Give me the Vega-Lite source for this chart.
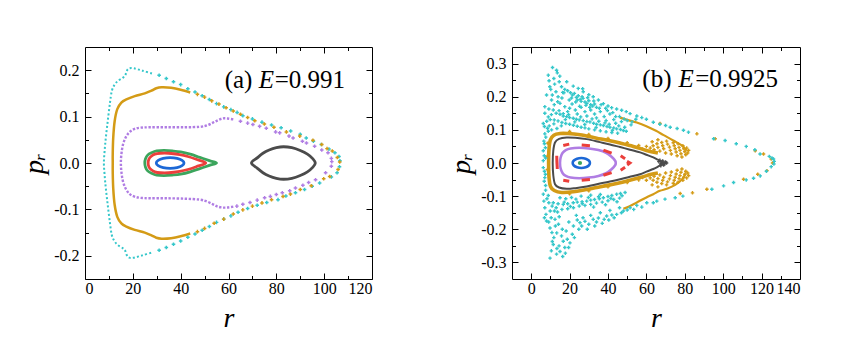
{
"$schema": "https://vega.github.io/schema/vega-lite/v6.json",
"padding": {"left": 20, "top": 46, "right": 5, "bottom": 5},
"spacing": 74,
"config": {
  "view": {"stroke": "black", "strokeWidth": 1},
  "axis": {"grid": false, "domain": false, "tickColor": "black", "labelColor": "black", "labelFontSize": 16, "labelFont": "Liberation Serif", "titleFont": "Liberation Serif", "titleFontSize": 28, "titleFontStyle": "italic", "titleFontWeight": "normal", "titleColor": "black", "tickWidth": 1}
},
"datasets": {
"aL": [
{"s":"cy","i":1,"r":28,"p":0.193},{"s":"cy","i":2,"r":24,"p":0.199},{"s":"cy","i":3,"r":20.5,"p":0.204},{"s":"cy","i":4,"r":18.5,"p":0.204},{"s":"cy","i":5,"r":17.5,"p":0.199},{"s":"cy","i":6,"r":16.9,"p":0.19},{"s":"cy","i":7,"r":15.9,"p":0.184},{"s":"cy","i":8,"r":13.8,"p":0.177},{"s":"cy","i":9,"r":12.4,"p":0.169},{"s":"cy","i":10,"r":11.2,"p":0.155},{"s":"cy","i":11,"r":10.4,"p":0.128},{"s":"cy","i":12,"r":9.5,"p":0.09},{"s":"cy","i":13,"r":8.7,"p":0.054},{"s":"cy","i":14,"r":8.2,"p":0.026},{"s":"cy","i":15,"r":7.9,"p":0},{"s":"cy","i":16,"r":8.2,"p":-0.026},{"s":"cy","i":17,"r":8.7,"p":-0.054},{"s":"cy","i":18,"r":9.5,"p":-0.09},{"s":"cy","i":19,"r":10.4,"p":-0.128},{"s":"cy","i":20,"r":11.2,"p":-0.155},{"s":"cy","i":21,"r":12.4,"p":-0.169},{"s":"cy","i":22,"r":13.8,"p":-0.177},{"s":"cy","i":23,"r":15.9,"p":-0.184},{"s":"cy","i":24,"r":16.9,"p":-0.19},{"s":"cy","i":25,"r":17.5,"p":-0.199},{"s":"cy","i":26,"r":18.5,"p":-0.204},{"s":"cy","i":27,"r":20.5,"p":-0.204},{"s":"cy","i":28,"r":24,"p":-0.199},{"s":"cy","i":29,"r":28,"p":-0.193},
{"s":"or","i":1,"r":44,"p":0.152},{"s":"or","i":2,"r":40,"p":0.158},{"s":"or","i":3,"r":36,"p":0.162},{"s":"or","i":4,"r":32,"p":0.163},{"s":"or","i":5,"r":29.8,"p":0.161},{"s":"or","i":6,"r":27.8,"p":0.156},{"s":"or","i":7,"r":25,"p":0.15},{"s":"or","i":8,"r":20.8,"p":0.144},{"s":"or","i":9,"r":17.3,"p":0.137},{"s":"or","i":10,"r":15.2,"p":0.13},{"s":"or","i":11,"r":13.5,"p":0.116},{"s":"or","i":12,"r":12.4,"p":0.09},{"s":"or","i":13,"r":11.8,"p":0.054},{"s":"or","i":14,"r":11.6,"p":0.02},{"s":"or","i":15,"r":11.6,"p":0},{"s":"or","i":16,"r":11.6,"p":-0.02},{"s":"or","i":17,"r":11.8,"p":-0.054},{"s":"or","i":18,"r":12.4,"p":-0.09},{"s":"or","i":19,"r":13.5,"p":-0.116},{"s":"or","i":20,"r":15.2,"p":-0.13},{"s":"or","i":21,"r":17.3,"p":-0.137},{"s":"or","i":22,"r":20.8,"p":-0.144},{"s":"or","i":23,"r":25,"p":-0.15},{"s":"or","i":24,"r":27.8,"p":-0.156},{"s":"or","i":25,"r":29.8,"p":-0.161},{"s":"or","i":26,"r":32,"p":-0.163},{"s":"or","i":27,"r":36,"p":-0.162},{"s":"or","i":28,"r":40,"p":-0.158},{"s":"or","i":29,"r":44,"p":-0.152},
{"s":"pu","i":1,"r":62,"p":0.094},{"s":"pu","i":2,"r":59.5,"p":0.096},{"s":"pu","i":3,"r":57.5,"p":0.096},{"s":"pu","i":4,"r":55.5,"p":0.092},{"s":"pu","i":5,"r":53.5,"p":0.087},{"s":"pu","i":6,"r":51,"p":0.081},{"s":"pu","i":7,"r":48,"p":0.078},{"s":"pu","i":8,"r":42,"p":0.077},{"s":"pu","i":9,"r":34,"p":0.077},{"s":"pu","i":10,"r":27,"p":0.077},{"s":"pu","i":11,"r":23,"p":0.076},{"s":"pu","i":12,"r":20.5,"p":0.073},{"s":"pu","i":13,"r":18.5,"p":0.066},{"s":"pu","i":14,"r":16.9,"p":0.054},{"s":"pu","i":15,"r":15.8,"p":0.038},{"s":"pu","i":16,"r":15.2,"p":0.018},{"s":"pu","i":17,"r":15,"p":0},{"s":"pu","i":18,"r":15.2,"p":-0.018},{"s":"pu","i":19,"r":15.8,"p":-0.038},{"s":"pu","i":20,"r":16.9,"p":-0.054},{"s":"pu","i":21,"r":18.5,"p":-0.066},{"s":"pu","i":22,"r":20.5,"p":-0.072},{"s":"pu","i":23,"r":23,"p":-0.075},{"s":"pu","i":24,"r":27,"p":-0.076},{"s":"pu","i":25,"r":34,"p":-0.076},{"s":"pu","i":26,"r":42,"p":-0.077},{"s":"pu","i":27,"r":48,"p":-0.079},{"s":"pu","i":28,"r":51,"p":-0.083},{"s":"pu","i":29,"r":53.5,"p":-0.089},{"s":"pu","i":30,"r":55.5,"p":-0.094},{"s":"pu","i":31,"r":57.5,"p":-0.096},{"s":"pu","i":32,"r":59.5,"p":-0.096},{"s":"pu","i":33,"r":62,"p":-0.094}
],
"aC": [
{"s":"gr","i":1,"r":25,"p":0},{"s":"gr","i":2,"r":25.3,"p":0.009},{"s":"gr","i":3,"r":26.2,"p":0.017},{"s":"gr","i":4,"r":27.8,"p":0.022},{"s":"gr","i":5,"r":30,"p":0.026},{"s":"gr","i":6,"r":33,"p":0.027},{"s":"gr","i":7,"r":36.5,"p":0.026},{"s":"gr","i":8,"r":40,"p":0.024},{"s":"gr","i":9,"r":44,"p":0.019},{"s":"gr","i":10,"r":48,"p":0.012},{"s":"gr","i":11,"r":52,"p":0.005},{"s":"gr","i":12,"r":55,"p":0},{"s":"gr","i":13,"r":52,"p":-0.005},{"s":"gr","i":14,"r":48,"p":-0.012},{"s":"gr","i":15,"r":44,"p":-0.019},{"s":"gr","i":16,"r":40,"p":-0.024},{"s":"gr","i":17,"r":36.5,"p":-0.026},{"s":"gr","i":18,"r":33,"p":-0.027},{"s":"gr","i":19,"r":30,"p":-0.026},{"s":"gr","i":20,"r":27.8,"p":-0.022},{"s":"gr","i":21,"r":26.2,"p":-0.017},{"s":"gr","i":22,"r":25.3,"p":-0.009},
{"s":"re","i":1,"r":26.4,"p":0},{"s":"re","i":2,"r":26.7,"p":0.008},{"s":"re","i":3,"r":27.6,"p":0.014},{"s":"re","i":4,"r":29.2,"p":0.019},{"s":"re","i":5,"r":31.5,"p":0.021},{"s":"re","i":6,"r":35,"p":0.021},{"s":"re","i":7,"r":39.6,"p":0.018},{"s":"re","i":8,"r":43,"p":0.014},{"s":"re","i":9,"r":46.5,"p":0.008},{"s":"re","i":10,"r":50.5,"p":0},{"s":"re","i":11,"r":46.5,"p":-0.008},{"s":"re","i":12,"r":43,"p":-0.014},{"s":"re","i":13,"r":39.6,"p":-0.018},{"s":"re","i":14,"r":35,"p":-0.021},{"s":"re","i":15,"r":31.5,"p":-0.021},{"s":"re","i":16,"r":29.2,"p":-0.019},{"s":"re","i":17,"r":27.6,"p":-0.014},{"s":"re","i":18,"r":26.7,"p":-0.008},
{"s":"bl","i":1,"r":41.4,"p":0},{"s":"bl","i":2,"r":40.6,"p":0.0058},{"s":"bl","i":3,"r":38.5,"p":0.01},{"s":"bl","i":4,"r":35.6,"p":0.0115},{"s":"bl","i":5,"r":32.7,"p":0.01},{"s":"bl","i":6,"r":30.6,"p":0.0058},{"s":"bl","i":7,"r":29.8,"p":0},{"s":"bl","i":8,"r":30.6,"p":-0.0058},{"s":"bl","i":9,"r":32.7,"p":-0.01},{"s":"bl","i":10,"r":35.6,"p":-0.0115},{"s":"bl","i":11,"r":38.5,"p":-0.01},{"s":"bl","i":12,"r":40.6,"p":-0.0058},
{"s":"gy","i":1,"r":69.6,"p":0},{"s":"gy","i":2,"r":72,"p":0.011},{"s":"gy","i":3,"r":74.4,"p":0.021},{"s":"gy","i":4,"r":77,"p":0.028},{"s":"gy","i":5,"r":80,"p":0.033},{"s":"gy","i":6,"r":83,"p":0.035},{"s":"gy","i":7,"r":86.5,"p":0.033},{"s":"gy","i":8,"r":90,"p":0.027},{"s":"gy","i":9,"r":93,"p":0.019},{"s":"gy","i":10,"r":95.3,"p":0.009},{"s":"gy","i":11,"r":96.3,"p":0},{"s":"gy","i":12,"r":95.3,"p":-0.009},{"s":"gy","i":13,"r":93,"p":-0.019},{"s":"gy","i":14,"r":90,"p":-0.027},{"s":"gy","i":15,"r":86.5,"p":-0.033},{"s":"gy","i":16,"r":83,"p":-0.035},{"s":"gy","i":17,"r":80,"p":-0.033},{"s":"gy","i":18,"r":77,"p":-0.028},{"s":"gy","i":19,"r":74.4,"p":-0.021},{"s":"gy","i":20,"r":72,"p":-0.011}
],
"aD": [
{"s":"cy","r":31,"p":0.189},{"s":"cy","r":34,"p":0.182},{"s":"cy","r":37,"p":0.175},{"s":"cy","r":40,"p":0.169},{"s":"cy","r":43,"p":0.16},{"s":"cy","r":46,"p":0.153},{"s":"cy","r":49,"p":0.145},{"s":"cy","r":52,"p":0.137},{"s":"cy","r":55,"p":0.128},{"s":"cy","r":58,"p":0.121},{"s":"cy","r":61,"p":0.115},{"s":"cy","r":63.6,"p":0.109},{"s":"cy","r":66,"p":0.102},{"s":"cy","r":70,"p":0.095},{"s":"cy","r":74,"p":0.088},{"s":"cy","r":78,"p":0.082},{"s":"cy","r":82,"p":0.076},{"s":"cy","r":86,"p":0.069},{"s":"cy","r":90,"p":0.062},{"s":"cy","r":92.5,"p":0.054},{"s":"cy","r":95.5,"p":0.047},{"s":"cy","r":98.8,"p":0.04},{"s":"cy","r":102,"p":0.03},{"s":"cy","r":104.5,"p":0.022},{"s":"cy","r":106.2,"p":0.014},{"s":"cy","r":106.6,"p":0.005},
{"s":"cy","r":106.4,"p":-0.008},{"s":"cy","r":105.4,"p":-0.021},{"s":"cy","r":103,"p":-0.03},{"s":"cy","r":98.1,"p":-0.043},{"s":"cy","r":95,"p":-0.05},{"s":"cy","r":91.8,"p":-0.057},{"s":"cy","r":88,"p":-0.064},{"s":"cy","r":84,"p":-0.071},{"s":"cy","r":80.7,"p":-0.079},{"s":"cy","r":76,"p":-0.085},{"s":"cy","r":72,"p":-0.091},{"s":"cy","r":68,"p":-0.098},{"s":"cy","r":64,"p":-0.106},{"s":"cy","r":61,"p":-0.114},{"s":"cy","r":58,"p":-0.121},{"s":"cy","r":55,"p":-0.128},{"s":"cy","r":52,"p":-0.137},{"s":"cy","r":49,"p":-0.145},{"s":"cy","r":46,"p":-0.153},{"s":"cy","r":43,"p":-0.16},{"s":"cy","r":40,"p":-0.168},{"s":"cy","r":37,"p":-0.175},{"s":"cy","r":34,"p":-0.182},{"s":"cy","r":31,"p":-0.188},
{"s":"or","r":47,"p":0.148},{"s":"or","r":50,"p":0.142},{"s":"or","r":53,"p":0.134},{"s":"or","r":56,"p":0.127},{"s":"or","r":59,"p":0.119},{"s":"or","r":62,"p":0.112},{"s":"or","r":65,"p":0.105},{"s":"or","r":68,"p":0.098},{"s":"or","r":71,"p":0.091},{"s":"or","r":75,"p":0.084},{"s":"or","r":79,"p":0.077},{"s":"or","r":84.2,"p":0.067},{"s":"or","r":89.8,"p":0.058},{"s":"or","r":95.3,"p":0.049},{"s":"or","r":99,"p":0.04},{"s":"or","r":101.2,"p":0.031},{"s":"or","r":103.4,"p":0.026},{"s":"or","r":105.5,"p":0.012},{"s":"or","r":106.5,"p":0.002},
{"s":"or","r":105.8,"p":-0.014},{"s":"or","r":102.3,"p":-0.029},{"s":"or","r":99.8,"p":-0.034},{"s":"or","r":94.6,"p":-0.049},{"s":"or","r":90,"p":-0.057},{"s":"or","r":85.9,"p":-0.067},{"s":"or","r":82.8,"p":-0.072},{"s":"or","r":78,"p":-0.079},{"s":"or","r":74,"p":-0.086},{"s":"or","r":70,"p":-0.093},{"s":"or","r":66,"p":-0.101},{"s":"or","r":62,"p":-0.11},{"s":"or","r":58,"p":-0.121},{"s":"or","r":54,"p":-0.13},{"s":"or","r":50,"p":-0.141},{"s":"or","r":47,"p":-0.148},
{"s":"pu","r":65,"p":0.09},{"s":"pu","r":68,"p":0.086},{"s":"pu","r":70.2,"p":0.083},{"s":"pu","r":73,"p":0.079},{"s":"pu","r":75.8,"p":0.075},{"s":"pu","r":79.7,"p":0.067},{"s":"pu","r":81.4,"p":0.065},{"s":"pu","r":85.3,"p":0.058},{"s":"pu","r":87,"p":0.054},{"s":"pu","r":90.9,"p":0.047},{"s":"pu","r":92.6,"p":0.043},{"s":"pu","r":96,"p":0.036},{"s":"pu","r":99,"p":0.028},{"s":"pu","r":101.6,"p":0.022},{"s":"pu","r":103,"p":0.01},{"s":"pu","r":103.2,"p":0.003},
{"s":"pu","r":103,"p":-0.007},{"s":"pu","r":100.6,"p":-0.021},{"s":"pu","r":96.4,"p":-0.036},{"s":"pu","r":93.5,"p":-0.042},{"s":"pu","r":91.1,"p":-0.048},{"s":"pu","r":88,"p":-0.054},{"s":"pu","r":85.6,"p":-0.06},{"s":"pu","r":82.5,"p":-0.064},{"s":"pu","r":80,"p":-0.068},{"s":"pu","r":77.5,"p":-0.072},{"s":"pu","r":75.1,"p":-0.075},{"s":"pu","r":72,"p":-0.08},{"s":"pu","r":69,"p":-0.085},{"s":"pu","r":66,"p":-0.089},{"s":"pu","r":63.5,"p":-0.093}
],
"aT": [{"t":"(a)","r":58.4,"p":0.161},{"t":"E","r":72.7,"p":0.161},{"t":"=0.991","r":79.3,"p":0.161}],
"bC": [
{"s":"bl","i":1,"r":30.6,"p":0},{"s":"bl","i":2,"r":30,"p":0.0075},{"s":"bl","i":3,"r":28.35,"p":0.013},{"s":"bl","i":4,"r":26.1,"p":0.015},{"s":"bl","i":5,"r":23.85,"p":0.013},{"s":"bl","i":6,"r":22.2,"p":0.0075},{"s":"bl","i":7,"r":21.6,"p":0},{"s":"bl","i":8,"r":22.2,"p":-0.0075},{"s":"bl","i":9,"r":23.85,"p":-0.013},{"s":"bl","i":10,"r":26.1,"p":-0.015},{"s":"bl","i":11,"r":28.35,"p":-0.013},{"s":"bl","i":12,"r":30,"p":-0.0075},
{"s":"pu","i":1,"r":15,"p":0},{"s":"pu","i":2,"r":15.3,"p":0.016},{"s":"pu","i":3,"r":16.3,"p":0.03},{"s":"pu","i":4,"r":18,"p":0.039},{"s":"pu","i":5,"r":20.5,"p":0.044},{"s":"pu","i":6,"r":25,"p":0.046},{"s":"pu","i":7,"r":30,"p":0.044},{"s":"pu","i":8,"r":35,"p":0.039},{"s":"pu","i":9,"r":39,"p":0.031},{"s":"pu","i":10,"r":42,"p":0.018},{"s":"pu","i":11,"r":43.8,"p":0.006},{"s":"pu","i":12,"r":44,"p":0},{"s":"pu","i":13,"r":43.8,"p":-0.006},{"s":"pu","i":14,"r":42,"p":-0.018},{"s":"pu","i":15,"r":39,"p":-0.031},{"s":"pu","i":16,"r":35,"p":-0.039},{"s":"pu","i":17,"r":30,"p":-0.044},{"s":"pu","i":18,"r":25,"p":-0.046},{"s":"pu","i":19,"r":20.5,"p":-0.044},{"s":"pu","i":20,"r":18,"p":-0.039},{"s":"pu","i":21,"r":16.3,"p":-0.03},{"s":"pu","i":22,"r":15.3,"p":-0.016},
{"s":"gy","i":1,"r":11.2,"p":0},{"s":"gy","i":2,"r":11.5,"p":0.037},{"s":"gy","i":3,"r":12.4,"p":0.062},{"s":"gy","i":4,"r":14.5,"p":0.073},{"s":"gy","i":5,"r":18.5,"p":0.077},{"s":"gy","i":6,"r":23,"p":0.076},{"s":"gy","i":7,"r":28.9,"p":0.072},{"s":"gy","i":8,"r":35.8,"p":0.063},{"s":"gy","i":9,"r":41,"p":0.056},{"s":"gy","i":10,"r":46.3,"p":0.048},{"s":"gy","i":11,"r":51,"p":0.041},{"s":"gy","i":12,"r":56.7,"p":0.032},{"s":"gy","i":13,"r":60,"p":0.025},{"s":"gy","i":14,"r":63.6,"p":0.017},{"s":"gy","i":15,"r":66,"p":0.01},{"s":"gy","i":16,"r":68,"p":0.004},{"s":"gy","i":17,"r":69.5,"p":0},{"s":"gy","i":18,"r":68,"p":-0.004},{"s":"gy","i":19,"r":66,"p":-0.011},{"s":"gy","i":20,"r":63.6,"p":-0.018},{"s":"gy","i":21,"r":60,"p":-0.026},{"s":"gy","i":22,"r":56.7,"p":-0.034},{"s":"gy","i":23,"r":51,"p":-0.042},{"s":"gy","i":24,"r":46.3,"p":-0.049},{"s":"gy","i":25,"r":41,"p":-0.056},{"s":"gy","i":26,"r":35.8,"p":-0.062},{"s":"gy","i":27,"r":28.9,"p":-0.071},{"s":"gy","i":28,"r":23,"p":-0.076},{"s":"gy","i":29,"r":18.5,"p":-0.078},{"s":"gy","i":30,"r":14.5,"p":-0.074},{"s":"gy","i":31,"r":12.4,"p":-0.064},{"s":"gy","i":32,"r":11.5,"p":-0.037}
],
"bO": [
{"s":"re","g":"r1","i":1,"r":13.3,"p":0.022},{"s":"re","g":"r1","i":2,"r":13.4,"p":0.002},{"s":"re","g":"r1","i":3,"r":13.6,"p":-0.018},
{"s":"re","g":"r2","i":1,"r":16.7,"p":0.053},{"s":"re","g":"r2","i":2,"r":19.8,"p":0.057},
{"s":"re","g":"r3","i":1,"r":26.3,"p":0.054},{"s":"re","g":"r3","i":2,"r":30.6,"p":0.052},
{"s":"re","g":"r4","i":1,"r":37.6,"p":0.039},{"s":"re","g":"r4","i":2,"r":41.9,"p":0.03},
{"s":"re","g":"r5","i":1,"r":46.6,"p":0.022},{"s":"re","g":"r5","i":2,"r":48.9,"p":0.013},
{"s":"re","g":"r6","i":1,"r":49.9,"p":0.005},{"s":"re","g":"r6","i":2,"r":51.4,"p":0},{"s":"re","g":"r6","i":3,"r":50,"p":-0.006},
{"s":"re","g":"r7","i":1,"r":46.6,"p":-0.022},{"s":"re","g":"r7","i":2,"r":48.9,"p":-0.013},
{"s":"re","g":"r8","i":1,"r":37.6,"p":-0.037},{"s":"re","g":"r8","i":2,"r":41.9,"p":-0.029},
{"s":"re","g":"r9","i":1,"r":26.3,"p":-0.052},{"s":"re","g":"r9","i":2,"r":30.6,"p":-0.05},
{"s":"re","g":"r10","i":1,"r":16.7,"p":-0.052},{"s":"re","g":"r10","i":2,"r":19.8,"p":-0.055},
{"s":"or","g":"ob","i":1,"r":66,"p":0.03},{"s":"or","g":"ob","i":2,"r":60,"p":0.038},{"s":"or","g":"ob","i":3,"r":53.2,"p":0.05},{"s":"or","g":"ob","i":4,"r":46.3,"p":0.06},{"s":"or","g":"ob","i":5,"r":41,"p":0.067},{"s":"or","g":"ob","i":6,"r":34.1,"p":0.075},{"s":"or","g":"ob","i":7,"r":25.4,"p":0.085},{"s":"or","g":"ob","i":8,"r":19,"p":0.089},{"s":"or","g":"ob","i":9,"r":15,"p":0.089},{"s":"or","g":"ob","i":10,"r":11.8,"p":0.084},{"s":"or","g":"ob","i":11,"r":10,"p":0.07},{"s":"or","g":"ob","i":12,"r":9.3,"p":0.045},{"s":"or","g":"ob","i":13,"r":9.1,"p":0.015},{"s":"or","g":"ob","i":14,"r":9.1,"p":-0.015},{"s":"or","g":"ob","i":15,"r":9.3,"p":-0.045},{"s":"or","g":"ob","i":16,"r":10,"p":-0.07},{"s":"or","g":"ob","i":17,"r":12,"p":-0.083},{"s":"or","g":"ob","i":18,"r":15.9,"p":-0.089},{"s":"or","g":"ob","i":19,"r":21.9,"p":-0.087},{"s":"or","g":"ob","i":20,"r":28,"p":-0.081},{"s":"or","g":"ob","i":21,"r":34.1,"p":-0.074},{"s":"or","g":"ob","i":22,"r":41,"p":-0.066},{"s":"or","g":"ob","i":23,"r":48,"p":-0.057},{"s":"or","g":"ob","i":24,"r":56.7,"p":-0.044},{"s":"or","g":"ob","i":25,"r":62,"p":-0.035},{"s":"or","g":"ob","i":26,"r":66,"p":-0.03},
{"s":"or","g":"oa1","i":1,"r":46.3,"p":0.137},{"s":"or","g":"oa1","i":2,"r":50,"p":0.13},{"s":"or","g":"oa1","i":3,"r":55,"p":0.122},{"s":"or","g":"oa1","i":4,"r":60,"p":0.111},{"s":"or","g":"oa1","i":5,"r":65,"p":0.097},{"s":"or","g":"oa1","i":6,"r":69,"p":0.084},{"s":"or","g":"oa1","i":7,"r":74,"p":0.068},{"s":"or","g":"oa1","i":8,"r":78.4,"p":0.053},{"s":"or","g":"oa1","i":9,"r":81,"p":0.037},
{"s":"or","g":"oa2","i":1,"r":48,"p":-0.138},{"s":"or","g":"oa2","i":2,"r":51,"p":-0.131},{"s":"or","g":"oa2","i":3,"r":55,"p":-0.119},{"s":"or","g":"oa2","i":4,"r":60,"p":-0.104},{"s":"or","g":"oa2","i":5,"r":63.6,"p":-0.094},{"s":"or","g":"oa2","i":6,"r":67,"p":-0.084},{"s":"or","g":"oa2","i":7,"r":71,"p":-0.077},{"s":"or","g":"oa2","i":8,"r":75,"p":-0.066},{"s":"or","g":"oa2","i":9,"r":78.5,"p":-0.05},{"s":"or","g":"oa2","i":10,"r":80.5,"p":-0.032}
],
"bD": [
{"s":"gy","r":66.5,"p":0.004},{"s":"gy","r":67.5,"p":-0.003},{"s":"gy","r":68.5,"p":0.006},{"s":"gy","r":69.5,"p":-0.002},{"s":"gy","r":70,"p":0.003},{"s":"gy","r":68,"p":0},{"s":"gy","r":69,"p":-0.006},{"s":"gy","r":67,"p":0.008},{"s":"gy","r":70.5,"p":0},{"s":"gy","r":67.5,"p":-0.008},
{"s":"or","r":62,"p":0.045},{"s":"or","r":63.5,"p":0.052},{"s":"or","r":64,"p":0.04},{"s":"or","r":65.5,"p":0.058},{"s":"or","r":66,"p":0.047},{"s":"or","r":67,"p":0.036},{"s":"or","r":68,"p":0.062},{"s":"or","r":68.5,"p":0.052},{"s":"or","r":69,"p":0.043},{"s":"or","r":70,"p":0.03},{"s":"or","r":70.5,"p":0.066},{"s":"or","r":71,"p":0.057},{"s":"or","r":72,"p":0.048},{"s":"or","r":72.5,"p":0.038},{"s":"or","r":73,"p":0.027},{"s":"or","r":74,"p":0.061},{"s":"or","r":74.5,"p":0.052},{"s":"or","r":75,"p":0.043},{"s":"or","r":75.5,"p":0.033},{"s":"or","r":76,"p":0.022},{"s":"or","r":76.5,"p":0.058},{"s":"or","r":77,"p":0.047},{"s":"or","r":77.5,"p":0.038},{"s":"or","r":78,"p":0.028},{"s":"or","r":78.5,"p":0.018},{"s":"or","r":79,"p":0.052},{"s":"or","r":79.5,"p":0.043},{"s":"or","r":80,"p":0.034},{"s":"or","r":80.5,"p":0.025},{"s":"or","r":81,"p":0.045},{"s":"or","r":81.5,"p":0.03},{"s":"or","r":82,"p":0.038},{"s":"or","r":58,"p":0.042},{"s":"or","r":60,"p":0.05},{"s":"or","r":63,"p":0.064},{"s":"or","r":66,"p":0.07},
{"s":"or","r":62,"p":-0.045},{"s":"or","r":63.5,"p":-0.052},{"s":"or","r":64,"p":-0.04},{"s":"or","r":65.5,"p":-0.058},{"s":"or","r":66,"p":-0.047},{"s":"or","r":67,"p":-0.036},{"s":"or","r":68,"p":-0.062},{"s":"or","r":68.5,"p":-0.052},{"s":"or","r":69,"p":-0.043},{"s":"or","r":70,"p":-0.03},{"s":"or","r":70.5,"p":-0.066},{"s":"or","r":71,"p":-0.057},{"s":"or","r":72,"p":-0.048},{"s":"or","r":72.5,"p":-0.038},{"s":"or","r":73,"p":-0.027},{"s":"or","r":74,"p":-0.061},{"s":"or","r":74.5,"p":-0.052},{"s":"or","r":75,"p":-0.043},{"s":"or","r":75.5,"p":-0.033},{"s":"or","r":76,"p":-0.022},{"s":"or","r":76.5,"p":-0.058},{"s":"or","r":77,"p":-0.047},{"s":"or","r":77.5,"p":-0.038},{"s":"or","r":78,"p":-0.028},{"s":"or","r":78.5,"p":-0.018},{"s":"or","r":79,"p":-0.052},{"s":"or","r":79.5,"p":-0.043},{"s":"or","r":80,"p":-0.034},{"s":"or","r":80.5,"p":-0.025},{"s":"or","r":81,"p":-0.045},{"s":"or","r":81.5,"p":-0.03},{"s":"or","r":82,"p":-0.038},{"s":"or","r":58,"p":-0.044},{"s":"or","r":60,"p":-0.052},{"s":"or","r":63,"p":-0.066},{"s":"or","r":66,"p":-0.072},
{"s":"or","r":67.1,"p":0.119},{"s":"or","r":86.3,"p":0.088},{"s":"or","r":95.8,"p":0.073},{"s":"or","r":116.7,"p":0.037},{"s":"or","r":121,"p":0.027},{"s":"or","r":125,"p":0.012},{"s":"or","r":125.7,"p":0},{"s":"or","r":122.8,"p":-0.023},{"s":"or","r":118,"p":-0.034},{"s":"or","r":110.6,"p":-0.049},{"s":"or","r":91.5,"p":-0.079},{"s":"or","r":84,"p":-0.09},{"s":"or","r":77.6,"p":-0.092},
{"s":"or","r":20,"p":0.095},{"s":"or","r":30,"p":0.086},{"s":"or","r":40,"p":0.074},{"s":"or","r":50,"p":0.061},{"s":"or","r":56,"p":0.053},{"s":"or","r":20,"p":-0.093},{"s":"or","r":30,"p":-0.084},{"s":"or","r":40,"p":-0.072},{"s":"or","r":50,"p":-0.059},{"s":"or","r":56,"p":-0.051},{"s":"or","r":8.5,"p":0.06},{"s":"or","r":8.4,"p":-0.02},{"s":"or","r":8.3,"p":0.02},
{"s":"cy","r":6.3,"p":0.007},{"s":"cy","r":7.5,"p":0.015},{"s":"cy","r":6.8,"p":0.022},{"s":"cy","r":6.3,"p":0.037},{"s":"cy","r":7.4,"p":0.046},{"s":"cy","r":6.9,"p":0.058},{"s":"cy","r":6.6,"p":0.066},{"s":"cy","r":7.6,"p":0.078},{"s":"cy","r":8.9,"p":0.096},{"s":"cy","r":7.1,"p":0.088},{"s":"cy","r":8.5,"p":0.105},{"s":"cy","r":9.4,"p":0.112},{"s":"cy","r":6.9,"p":0.11},{"s":"cy","r":6.3,"p":0.119},{"s":"cy","r":8.1,"p":0.126},{"s":"cy","r":9.9,"p":0.131},{"s":"cy","r":8.9,"p":0.139},{"s":"cy","r":7.1,"p":0.15},{"s":"cy","r":10.5,"p":0.146},{"s":"cy","r":7.1,"p":0.17},{"s":"cy","r":9.2,"p":0.163},
{"s":"cy","r":11.1,"p":0.288},{"s":"cy","r":13.2,"p":0.28},{"s":"cy","r":8.9,"p":0.265},{"s":"cy","r":11.8,"p":0.255},{"s":"cy","r":14.6,"p":0.245},{"s":"cy","r":9.7,"p":0.23},{"s":"cy","r":15.8,"p":0.23},{"s":"cy","r":12.9,"p":0.215},{"s":"cy","r":8,"p":0.205},{"s":"cy","r":17,"p":0.212},{"s":"cy","r":10.6,"p":0.19},{"s":"cy","r":15,"p":0.18},{"s":"cy","r":11.5,"p":0.16},{"s":"cy","r":16.7,"p":0.149},{"s":"cy","r":13.6,"p":0.272},{"s":"cy","r":12.2,"p":0.238},{"s":"cy","r":9.3,"p":0.248},{"s":"cy","r":14,"p":0.2},{"s":"cy","r":12,"p":0.176},{"s":"cy","r":16,"p":0.196},{"s":"cy","r":10.2,"p":0.222},{"s":"cy","r":13.8,"p":0.185},{"s":"cy","r":17.5,"p":0.17},{"s":"cy","r":11,"p":0.205},{"s":"cy","r":14.9,"p":0.262},
{"s":"cy","r":17.5,"p":0.222},{"s":"cy","r":19,"p":0.218},{"s":"cy","r":20.5,"p":0.212},{"s":"cy","r":21.5,"p":0.205},{"s":"cy","r":22.5,"p":0.21},{"s":"cy","r":23.5,"p":0.198},{"s":"cy","r":24.5,"p":0.203},{"s":"cy","r":25.5,"p":0.192},{"s":"cy","r":26,"p":0.186},{"s":"cy","r":27,"p":0.195},{"s":"cy","r":28,"p":0.184},{"s":"cy","r":29,"p":0.18},{"s":"cy","r":30,"p":0.188},{"s":"cy","r":31,"p":0.176},{"s":"cy","r":32,"p":0.172},{"s":"cy","r":33,"p":0.178},{"s":"cy","r":34,"p":0.168},{"s":"cy","r":35.5,"p":0.165},{"s":"cy","r":24,"p":0.19},{"s":"cy","r":28.5,"p":0.174},{"s":"cy","r":21,"p":0.196},{"s":"cy","r":26.5,"p":0.2},{"s":"cy","r":30.5,"p":0.168},
{"s":"cy","r":18.5,"p":0.245},{"s":"cy","r":21.9,"p":0.232},{"s":"cy","r":24.5,"p":0.225},{"s":"cy","r":27.1,"p":0.215},{"s":"cy","r":30,"p":0.206},{"s":"cy","r":32.3,"p":0.2},{"s":"cy","r":35,"p":0.19},{"s":"cy","r":37.6,"p":0.179},{"s":"cy","r":40,"p":0.172},{"s":"cy","r":41.9,"p":0.167},{"s":"cy","r":44.5,"p":0.163},{"s":"cy","r":47.1,"p":0.159},{"s":"cy","r":49.5,"p":0.155},{"s":"cy","r":51.5,"p":0.149},{"s":"cy","r":55,"p":0.142},{"s":"cy","r":57.6,"p":0.137},{"s":"cy","r":60,"p":0.132},{"s":"cy","r":63.6,"p":0.123},{"s":"cy","r":67,"p":0.117},{"s":"cy","r":70,"p":0.113},{"s":"cy","r":72.4,"p":0.108},{"s":"cy","r":76,"p":0.104},{"s":"cy","r":79.3,"p":0.099},{"s":"cy","r":81.9,"p":0.093},{"s":"cy","r":95,"p":0.073},{"s":"cy","r":101,"p":0.068},{"s":"cy","r":106.8,"p":0.058},{"s":"cy","r":112,"p":0.05},{"s":"cy","r":116.5,"p":0.04},{"s":"cy","r":119.2,"p":0.027},{"s":"cy","r":124,"p":0.02},{"s":"cy","r":125.4,"p":0.015},{"s":"cy","r":126.2,"p":0.012},{"s":"cy","r":126.6,"p":0.005},
{"s":"cy","r":13,"p":0.15},{"s":"cy","r":15,"p":0.147},{"s":"cy","r":16.7,"p":0.142},{"s":"cy","r":18.5,"p":0.14},{"s":"cy","r":20,"p":0.137},{"s":"cy","r":21.9,"p":0.135},{"s":"cy","r":23.5,"p":0.132},{"s":"cy","r":25,"p":0.13},{"s":"cy","r":27.1,"p":0.128},{"s":"cy","r":29,"p":0.125},{"s":"cy","r":30.6,"p":0.124},{"s":"cy","r":32.5,"p":0.12},{"s":"cy","r":34.1,"p":0.117},{"s":"cy","r":36,"p":0.115},{"s":"cy","r":37.6,"p":0.113},{"s":"cy","r":39.5,"p":0.11},{"s":"cy","r":41,"p":0.108},{"s":"cy","r":43,"p":0.106},{"s":"cy","r":44.5,"p":0.103},{"s":"cy","r":46.5,"p":0.101},{"s":"cy","r":48,"p":0.098},{"s":"cy","r":49.5,"p":0.096},
{"s":"cy","r":12,"p":0.13},{"s":"cy","r":14,"p":0.127},{"s":"cy","r":16,"p":0.122},{"s":"cy","r":18,"p":0.119},{"s":"cy","r":20,"p":0.117},{"s":"cy","r":22,"p":0.114},{"s":"cy","r":24,"p":0.111},{"s":"cy","r":26,"p":0.108},{"s":"cy","r":28,"p":0.106},{"s":"cy","r":30,"p":0.103},{"s":"cy","r":33,"p":0.1},{"s":"cy","r":36,"p":0.097},{"s":"cy","r":39,"p":0.094},{"s":"cy","r":42,"p":0.092},{"s":"cy","r":45,"p":0.09},
{"s":"cy","r":19,"p":0.155},{"s":"cy","r":24,"p":0.148},{"s":"cy","r":29,"p":0.142},{"s":"cy","r":34,"p":0.136},{"s":"cy","r":39,"p":0.128},{"s":"cy","r":44,"p":0.12},{"s":"cy","r":23,"p":0.16},{"s":"cy","r":28,"p":0.155},{"s":"cy","r":33,"p":0.148},{"s":"cy","r":38,"p":0.14},{"s":"cy","r":43,"p":0.131},{"s":"cy","r":47,"p":0.125},{"s":"cy","r":20,"p":0.165},{"s":"cy","r":26,"p":0.168},{"s":"cy","r":31,"p":0.16},{"s":"cy","r":36,"p":0.155},{"s":"cy","r":41,"p":0.148},{"s":"cy","r":46,"p":0.14},{"s":"cy","r":50,"p":0.128},{"s":"cy","r":52,"p":0.115},
{"s":"cy","r":14.5,"p":0.158},{"s":"cy","r":17.8,"p":0.131},{"s":"cy","r":19.5,"p":0.146},{"s":"cy","r":22.7,"p":0.124},{"s":"cy","r":25.8,"p":0.139},{"s":"cy","r":27.9,"p":0.116},{"s":"cy","r":31.7,"p":0.133},{"s":"cy","r":33.8,"p":0.107},{"s":"cy","r":35.2,"p":0.126},{"s":"cy","r":38.4,"p":0.121},{"s":"cy","r":40.6,"p":0.117},{"s":"cy","r":42.3,"p":0.099},{"s":"cy","r":45.6,"p":0.112},{"s":"cy","r":48.7,"p":0.108},{"s":"cy","r":26.8,"p":0.224},{"s":"cy","r":29.4,"p":0.197},{"s":"cy","r":23.2,"p":0.184},{"s":"cy","r":19.8,"p":0.19},{"s":"cy","r":32.6,"p":0.187},{"s":"cy","r":36.4,"p":0.176},{"s":"cy","r":38.8,"p":0.165},{"s":"cy","r":16.4,"p":0.213},{"s":"cy","r":21.3,"p":0.178},{"s":"cy","r":25.2,"p":0.171},{"s":"cy","r":44,"p":0.14},{"s":"cy","r":48.4,"p":0.133},{"s":"cy","r":52.5,"p":0.124},{"s":"cy","r":54.5,"p":0.132},{"s":"cy","r":42.5,"p":0.152},{"s":"cy","r":39.7,"p":0.158},{"s":"cy","r":11.8,"p":0.118},{"s":"cy","r":13.4,"p":0.104},{"s":"cy","r":15.7,"p":0.112},{"s":"cy","r":10.6,"p":0.1},
{"s":"cy","r":6.3,"p":-0.014},{"s":"cy","r":7.1,"p":-0.044},{"s":"cy","r":6.3,"p":-0.094},{"s":"cy","r":7.1,"p":-0.135},{"s":"cy","r":8,"p":-0.175},{"s":"cy","r":6.9,"p":-0.025},{"s":"cy","r":7.4,"p":-0.034},{"s":"cy","r":6.8,"p":-0.055},{"s":"cy","r":7.5,"p":-0.068},{"s":"cy","r":7.5,"p":-0.082},{"s":"cy","r":8.9,"p":-0.098},{"s":"cy","r":8.2,"p":-0.108},{"s":"cy","r":6.6,"p":-0.115},{"s":"cy","r":9.2,"p":-0.12},{"s":"cy","r":7.7,"p":-0.155},{"s":"cy","r":9.9,"p":-0.145},{"s":"cy","r":6.9,"p":-0.165},{"s":"cy","r":10.4,"p":-0.165},
{"s":"cy","r":9.8,"p":-0.287},{"s":"cy","r":11.5,"p":-0.246},{"s":"cy","r":15,"p":-0.267},{"s":"cy","r":16.7,"p":-0.236},{"s":"cy","r":13.3,"p":-0.211},{"s":"cy","r":9.8,"p":-0.196},{"s":"cy","r":20.2,"p":-0.241},{"s":"cy","r":12.4,"p":-0.17},{"s":"cy","r":10.5,"p":-0.265},{"s":"cy","r":13.2,"p":-0.275},{"s":"cy","r":17.5,"p":-0.255},{"s":"cy","r":11.8,"p":-0.225},{"s":"cy","r":14.5,"p":-0.25},{"s":"cy","r":15.8,"p":-0.22},{"s":"cy","r":18.8,"p":-0.23},{"s":"cy","r":12.6,"p":-0.19},{"s":"cy","r":16.2,"p":-0.2},{"s":"cy","r":10.8,"p":-0.21},{"s":"cy","r":14.2,"p":-0.185},{"s":"cy","r":19.5,"p":-0.255},{"s":"cy","r":17.8,"p":-0.272},{"s":"cy","r":11,"p":-0.237},
{"s":"cy","r":11.5,"p":-0.12},{"s":"cy","r":14,"p":-0.123},{"s":"cy","r":16.7,"p":-0.125},{"s":"cy","r":19,"p":-0.123},{"s":"cy","r":21.9,"p":-0.12},{"s":"cy","r":24,"p":-0.118},{"s":"cy","r":26.5,"p":-0.117},{"s":"cy","r":28.9,"p":-0.115},{"s":"cy","r":31,"p":-0.112},{"s":"cy","r":33,"p":-0.11},{"s":"cy","r":35.5,"p":-0.108},{"s":"cy","r":37.6,"p":-0.105},{"s":"cy","r":40,"p":-0.101},{"s":"cy","r":42,"p":-0.098},{"s":"cy","r":44.5,"p":-0.094},{"s":"cy","r":46.5,"p":-0.092},{"s":"cy","r":48.9,"p":-0.089},
{"s":"cy","r":13,"p":-0.135},{"s":"cy","r":16,"p":-0.14},{"s":"cy","r":19,"p":-0.138},{"s":"cy","r":22,"p":-0.135},{"s":"cy","r":25,"p":-0.13},{"s":"cy","r":28,"p":-0.128},{"s":"cy","r":31,"p":-0.125},{"s":"cy","r":34,"p":-0.121},{"s":"cy","r":37,"p":-0.118},{"s":"cy","r":40,"p":-0.114},{"s":"cy","r":43,"p":-0.11},{"s":"cy","r":46,"p":-0.106},{"s":"cy","r":15,"p":-0.105},{"s":"cy","r":18,"p":-0.108},{"s":"cy","r":21,"p":-0.104},{"s":"cy","r":26,"p":-0.1},{"s":"cy","r":31,"p":-0.097},{"s":"cy","r":36,"p":-0.095},
{"s":"cy","r":25.4,"p":-0.18},{"s":"cy","r":28,"p":-0.176},{"s":"cy","r":32.3,"p":-0.17},{"s":"cy","r":35,"p":-0.166},{"s":"cy","r":39.3,"p":-0.16},{"s":"cy","r":42,"p":-0.157},{"s":"cy","r":44.5,"p":-0.155},{"s":"cy","r":48,"p":-0.145},{"s":"cy","r":51.5,"p":-0.135},{"s":"cy","r":55,"p":-0.128},{"s":"cy","r":57.6,"p":-0.133},{"s":"cy","r":60.2,"p":-0.12},{"s":"cy","r":63.6,"p":-0.12},{"s":"cy","r":65.4,"p":-0.115},{"s":"cy","r":69.7,"p":-0.109},{"s":"cy","r":75,"p":-0.105},{"s":"cy","r":79,"p":-0.1},{"s":"cy","r":22,"p":-0.19},{"s":"cy","r":27,"p":-0.165},{"s":"cy","r":31,"p":-0.158},{"s":"cy","r":36,"p":-0.15},{"s":"cy","r":41,"p":-0.143},{"s":"cy","r":46,"p":-0.135},{"s":"cy","r":24,"p":-0.172},{"s":"cy","r":30,"p":-0.185},{"s":"cy","r":34,"p":-0.178},{"s":"cy","r":38,"p":-0.17},
{"s":"cy","r":13.7,"p":-0.148},{"s":"cy","r":17.2,"p":-0.118},{"s":"cy","r":20.4,"p":-0.131},{"s":"cy","r":23.3,"p":-0.109},{"s":"cy","r":26.6,"p":-0.123},{"s":"cy","r":29.8,"p":-0.104},{"s":"cy","r":32.5,"p":-0.133},{"s":"cy","r":35.1,"p":-0.102},{"s":"cy","r":38.7,"p":-0.126},{"s":"cy","r":41.5,"p":-0.107},{"s":"cy","r":44.7,"p":-0.117},{"s":"cy","r":47.3,"p":-0.099},{"s":"cy","r":23.5,"p":-0.158},{"s":"cy","r":26.3,"p":-0.19},{"s":"cy","r":29.2,"p":-0.2},{"s":"cy","r":33.1,"p":-0.19},{"s":"cy","r":37,"p":-0.182},{"s":"cy","r":40.4,"p":-0.172},{"s":"cy","r":43.2,"p":-0.165},{"s":"cy","r":47,"p":-0.15},{"s":"cy","r":50,"p":-0.142},{"s":"cy","r":53.4,"p":-0.14},{"s":"cy","r":19.6,"p":-0.178},{"s":"cy","r":21.4,"p":-0.215},{"s":"cy","r":18.2,"p":-0.205},{"s":"cy","r":22.5,"p":-0.225},{"s":"cy","r":24.8,"p":-0.2},{"s":"cy","r":14.6,"p":-0.162},{"s":"cy","r":12.1,"p":-0.145},{"s":"cy","r":10.9,"p":-0.13},{"s":"cy","r":9.1,"p":-0.178},{"s":"cy","r":13.4,"p":-0.258},{"s":"cy","r":16.4,"p":-0.282},
{"s":"cy","r":94.1,"p":-0.079},{"s":"cy","r":100.2,"p":-0.069},{"s":"cy","r":105.4,"p":-0.059},{"s":"cy","r":112,"p":-0.051},{"s":"cy","r":115.8,"p":-0.046},{"s":"cy","r":119.3,"p":-0.039},{"s":"cy","r":122.5,"p":-0.025},{"s":"cy","r":125,"p":-0.011},{"s":"cy","r":126.4,"p":-0.003}
],
"bG": [{"s":"gr","r":25.4,"p":0}],
"bT": [{"t":"(b)","r":57.9,"p":0.23},{"t":"E","r":76.7,"p":0.23},{"t":"=0.9925","r":85.4,"p":0.23}]
},
"hconcat": [
{
 "width": 287, "height": 232,
 "resolve": {"axis": {"x": "independent", "y": "independent"}},
 "layer": [
  {"data": {"name": "aL"}, "transform": [{"filter": "datum.s == 'cy'"}],
   "mark": {"type": "line", "interpolate": "cardinal", "strokeWidth": 2, "strokeDash": [2, 2.2], "color": "#35C7CA"},
   "encoding": {"x": {"field": "r", "type": "quantitative", "scale": {"domain": [0, 120], "nice": false, "zero": false},
                      "axis": {"orient": "bottom", "values": [10,30,50,70,90,110], "labels": false, "title": null, "offset": -3.5, "tickSize": 3.5}},
                "y": {"field": "p", "type": "quantitative", "scale": {"domain": [-0.25, 0.25], "nice": false, "zero": false},
                      "axis": {"orient": "left", "values": [-0.15,-0.05,0.05,0.15], "labels": false, "title": null, "offset": -3.5, "tickSize": 3.5}},
                "order": {"field": "i", "type": "quantitative"}}},
  {"data": {"name": "aL"}, "transform": [{"filter": "datum.s == 'or'"}],
   "mark": {"type": "line", "interpolate": "cardinal", "strokeWidth": 2.5, "color": "#D49B16"},
   "encoding": {"x": {"field": "r", "type": "quantitative", "scale": {"domain": [0, 120], "nice": false, "zero": false},
                      "axis": {"orient": "top", "values": [10,30,50,70,90,110], "labels": false, "title": null, "offset": -3.5, "tickSize": 3.5}},
                "y": {"field": "p", "type": "quantitative", "scale": {"domain": [-0.25, 0.25], "nice": false, "zero": false},
                      "axis": {"orient": "right", "values": [-0.15,-0.05,0.05,0.15], "labels": false, "title": null, "offset": -3.5, "tickSize": 3.5}},
                "order": {"field": "i", "type": "quantitative"}}},
  {"data": {"name": "aL"}, "transform": [{"filter": "datum.s == 'pu'"}],
   "mark": {"type": "line", "interpolate": "cardinal", "strokeWidth": 2.4, "strokeDash": [2.4, 1.6], "color": "#B07DE3"},
   "encoding": {"x": {"field": "r", "type": "quantitative", "scale": {"domain": [0, 120], "nice": false, "zero": false}, "axis": null},
                "y": {"field": "p", "type": "quantitative", "scale": {"domain": [-0.25, 0.25], "nice": false, "zero": false}, "axis": null},
                "order": {"field": "i", "type": "quantitative"}}},
  {"data": {"name": "aC"},
   "mark": {"type": "line", "interpolate": "cardinal-closed", "strokeWidth": 2.8},
   "encoding": {"x": {"field": "r", "type": "quantitative", "scale": {"domain": [0, 120], "nice": false, "zero": false},
                      "axis": {"orient": "top", "values": [20,40,60,80,100], "labels": false, "title": null, "offset": -6, "tickSize": 6}},
                "y": {"field": "p", "type": "quantitative", "scale": {"domain": [-0.25, 0.25], "nice": false, "zero": false},
                      "axis": {"orient": "right", "values": [-0.2,-0.1,0,0.1,0.2], "labels": false, "title": null, "offset": -6, "tickSize": 6}},
                "color": {"field": "s", "type": "nominal", "scale": {"domain": ["cy","or","pu","gr","re","bl","gy"], "range": ["#35C7CA","#D49B16","#B07DE3","#3BA55C","#EB3F3B","#1C68D6","#4B4B4B"]}, "legend": null},
                "detail": {"field": "s"},
                "order": {"field": "i", "type": "quantitative"}}},
  {"data": {"name": "aD"},
   "mark": {"type": "point", "shape": "cross", "filled": true, "size": 13, "opacity": 1},
   "encoding": {"x": {"field": "r", "type": "quantitative", "scale": {"domain": [0, 120], "nice": false, "zero": false},
                      "axis": {"orient": "bottom", "values": [0,20,40,60,80,100,120], "title": "r", "titlePadding": 8,
                               "labelFont": "Liberation Serif", "labelFontSize": 16, "labelPadding": 1, "offset": -6, "tickSize": 6}},
                "y": {"field": "p", "type": "quantitative", "scale": {"domain": [-0.25, 0.25], "nice": false, "zero": false},
                      "axis": {"orient": "left", "values": [-0.2,-0.1,0,0.1,0.2], "title": "pᵣ", "titlePadding": 5,
                               "labelFont": "Liberation Serif", "labelFontSize": 16, "labelPadding": 6, "offset": -6, "tickSize": 6,
                               "labelExpr": "replace(format(datum.value, '.1f'), '−', '-')"}},
                "color": {"field": "s", "type": "nominal", "scale": {"domain": ["cy","or","pu","gr","re","bl","gy"], "range": ["#35C7CA","#D49B16","#B07DE3","#3BA55C","#EB3F3B","#1C68D6","#4B4B4B"]}, "legend": null}}},
  {"data": {"name": "aT"}, "transform": [{"filter": "datum.t != 'E'"}],
   "mark": {"type": "text", "align": "left", "baseline": "alphabetic", "fontSize": 25, "font": "Liberation Serif", "color": "black"},
   "encoding": {"x": {"field": "r", "type": "quantitative", "scale": {"domain": [0, 120], "nice": false, "zero": false}, "axis": null},
                "y": {"field": "p", "type": "quantitative", "scale": {"domain": [-0.25, 0.25], "nice": false, "zero": false}, "axis": null},
                "text": {"field": "t"}}},
  {"data": {"name": "aT"}, "transform": [{"filter": "datum.t == 'E'"}],
   "mark": {"type": "text", "align": "left", "baseline": "alphabetic", "fontSize": 25, "font": "Liberation Serif", "fontStyle": "italic", "color": "black"},
   "encoding": {"x": {"field": "r", "type": "quantitative", "scale": {"domain": [0, 120], "nice": false, "zero": false}, "axis": null},
                "y": {"field": "p", "type": "quantitative", "scale": {"domain": [-0.25, 0.25], "nice": false, "zero": false}, "axis": null},
                "text": {"field": "t"}}}
 ]
},
{
 "width": 288, "height": 232,
 "resolve": {"axis": {"x": "independent", "y": "independent"}},
 "layer": [
  {"data": {"name": "bO"}, "transform": [{"filter": "datum.g == 'ob'"}],
   "mark": {"type": "line", "interpolate": "cardinal", "strokeWidth": 3.6, "color": "#D49B16"},
   "encoding": {"x": {"field": "r", "type": "quantitative", "scale": {"domain": [-10, 140], "nice": false, "zero": false},
                      "axis": {"orient": "bottom", "values": [10,30,50,70,90,110,130], "labels": false, "title": null, "offset": -3.5, "tickSize": 3.5}},
                "y": {"field": "p", "type": "quantitative", "scale": {"domain": [-0.35, 0.35], "nice": false, "zero": false},
                      "axis": {"orient": "left", "values": [-0.25,-0.15,-0.05,0.05,0.15,0.25], "labels": false, "title": null, "offset": -3.5, "tickSize": 3.5}},
                "order": {"field": "i", "type": "quantitative"}}},
  {"data": {"name": "bO"}, "transform": [{"filter": "datum.g == 'oa1' || datum.g == 'oa2'"}],
   "mark": {"type": "line", "interpolate": "cardinal", "strokeWidth": 2.2, "color": "#D49B16"},
   "encoding": {"x": {"field": "r", "type": "quantitative", "scale": {"domain": [-10, 140], "nice": false, "zero": false},
                      "axis": {"orient": "top", "values": [10,30,50,70,90,110,130], "labels": false, "title": null, "offset": -3.5, "tickSize": 3.5}},
                "y": {"field": "p", "type": "quantitative", "scale": {"domain": [-0.35, 0.35], "nice": false, "zero": false},
                      "axis": {"orient": "right", "values": [-0.25,-0.15,-0.05,0.05,0.15,0.25], "labels": false, "title": null, "offset": -3.5, "tickSize": 3.5}},
                "detail": {"field": "g"},
                "order": {"field": "i", "type": "quantitative"}}},
  {"data": {"name": "bD"},
   "mark": {"type": "point", "shape": "cross", "filled": true, "size": 12, "opacity": 1},
   "encoding": {"x": {"field": "r", "type": "quantitative", "scale": {"domain": [-10, 140], "nice": false, "zero": false},
                      "axis": {"orient": "bottom", "values": [0,20,40,60,80,100,120,140], "title": "r", "titlePadding": 8,
                               "labelFont": "Liberation Serif", "labelFontSize": 16, "labelPadding": 1, "offset": -6, "tickSize": 6}},
                "y": {"field": "p", "type": "quantitative", "scale": {"domain": [-0.35, 0.35], "nice": false, "zero": false},
                      "axis": {"orient": "left", "values": [-0.3,-0.2,-0.1,0,0.1,0.2,0.3], "title": "pᵣ", "titlePadding": 5,
                               "labelFont": "Liberation Serif", "labelFontSize": 16, "labelPadding": 6, "offset": -6, "tickSize": 6,
                               "labelExpr": "replace(format(datum.value, '.1f'), '−', '-')"}},
                "color": {"field": "s", "type": "nominal", "scale": {"domain": ["cy","or","pu","gr","re","bl","gy"], "range": ["#35C7CA","#D49B16","#B07DE3","#3BA55C","#EB3F3B","#1C68D6","#4B4B4B"]}, "legend": null}}},
  {"data": {"name": "bC"}, "transform": [{"filter": "datum.s != 'gy'"}],
   "mark": {"type": "line", "interpolate": "cardinal-closed", "strokeWidth": 2.6},
   "encoding": {"x": {"field": "r", "type": "quantitative", "scale": {"domain": [-10, 140], "nice": false, "zero": false},
                      "axis": {"orient": "top", "values": [0,20,40,60,80,100,120], "labels": false, "title": null, "offset": -6, "tickSize": 6}},
                "y": {"field": "p", "type": "quantitative", "scale": {"domain": [-0.35, 0.35], "nice": false, "zero": false},
                      "axis": {"orient": "right", "values": [-0.3,-0.2,-0.1,0,0.1,0.2,0.3], "labels": false, "title": null, "offset": -6, "tickSize": 6}},
                "color": {"field": "s", "type": "nominal", "scale": {"domain": ["cy","or","pu","gr","re","bl","gy"], "range": ["#35C7CA","#D49B16","#B07DE3","#3BA55C","#EB3F3B","#1C68D6","#4B4B4B"]}, "legend": null},
                "detail": {"field": "s"},
                "order": {"field": "i", "type": "quantitative"}}},
  {"data": {"name": "bC"}, "transform": [{"filter": "datum.s == 'gy'"}],
   "mark": {"type": "line", "interpolate": "cardinal-closed", "strokeWidth": 2, "color": "#4B4B4B"},
   "encoding": {"x": {"field": "r", "type": "quantitative", "scale": {"domain": [-10, 140], "nice": false, "zero": false}, "axis": null},
                "y": {"field": "p", "type": "quantitative", "scale": {"domain": [-0.35, 0.35], "nice": false, "zero": false}, "axis": null},
                "order": {"field": "i", "type": "quantitative"}}},
  {"data": {"name": "bO"}, "transform": [{"filter": "datum.s == 're'"}],
   "mark": {"type": "line", "strokeWidth": 3, "color": "#EB3F3B"},
   "encoding": {"x": {"field": "r", "type": "quantitative", "scale": {"domain": [-10, 140], "nice": false, "zero": false}, "axis": null},
                "y": {"field": "p", "type": "quantitative", "scale": {"domain": [-0.35, 0.35], "nice": false, "zero": false}, "axis": null},
                "detail": {"field": "g"},
                "order": {"field": "i", "type": "quantitative"}}},
  {"data": {"name": "bG"},
   "mark": {"type": "point", "shape": "circle", "filled": true, "size": 18, "color": "#3BA55C", "opacity": 1},
   "encoding": {"x": {"field": "r", "type": "quantitative", "scale": {"domain": [-10, 140], "nice": false, "zero": false}, "axis": null},
                "y": {"field": "p", "type": "quantitative", "scale": {"domain": [-0.35, 0.35], "nice": false, "zero": false}, "axis": null}}},
  {"data": {"name": "bT"}, "transform": [{"filter": "datum.t != 'E'"}],
   "mark": {"type": "text", "align": "left", "baseline": "alphabetic", "fontSize": 25, "font": "Liberation Serif", "color": "black"},
   "encoding": {"x": {"field": "r", "type": "quantitative", "scale": {"domain": [-10, 140], "nice": false, "zero": false}, "axis": null},
                "y": {"field": "p", "type": "quantitative", "scale": {"domain": [-0.35, 0.35], "nice": false, "zero": false}, "axis": null},
                "text": {"field": "t"}}},
  {"data": {"name": "bT"}, "transform": [{"filter": "datum.t == 'E'"}],
   "mark": {"type": "text", "align": "left", "baseline": "alphabetic", "fontSize": 25, "font": "Liberation Serif", "fontStyle": "italic", "color": "black"},
   "encoding": {"x": {"field": "r", "type": "quantitative", "scale": {"domain": [-10, 140], "nice": false, "zero": false}, "axis": null},
                "y": {"field": "p", "type": "quantitative", "scale": {"domain": [-0.35, 0.35], "nice": false, "zero": false}, "axis": null},
                "text": {"field": "t"}}}
 ]
}
]
}
